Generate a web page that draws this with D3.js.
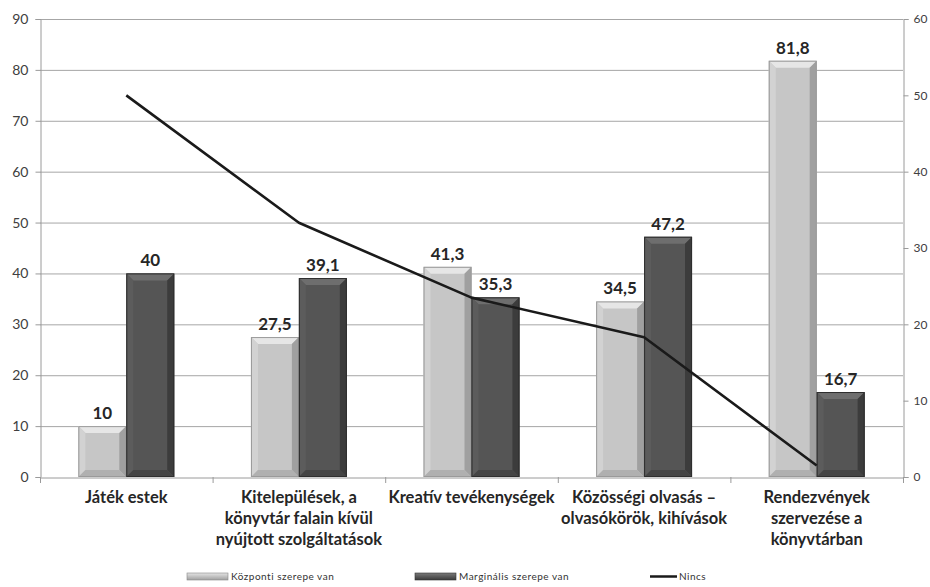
<!DOCTYPE html>
<html>
<head>
<meta charset="utf-8">
<script src="https://cdn.jsdelivr.net/npm/d3@7"></script>
<style>
  html, body { margin: 0; padding: 0; background: #fff; }
  svg { display: block; font-family: Lato, "Open Sans", sans-serif; }
</style>
</head>
<body>
<svg id="chart" width="930" height="587"></svg>
<script>
// Categories (multi-line labels) and series
const categories = [
  ["Játék estek"],
  ["Kitelepülések, a", "könyvtár falain kívül", "nyújtott szolgáltatások"],
  ["Kreatív tevékenységek"],
  ["Közösségi olvasás –", "olvasókörök, kihívások"],
  ["Rendezvények", "szervezése a", "könyvtárban"]
];
const seriesNames = ["Központi szerepe van", "Marginális szerepe van", "Nincs"];
const kozponti = [10, 27.5, 41.3, 34.5, 81.8];
const marginalis = [40, 39.1, 35.3, 47.2, 16.7];
const nincs = [50, 33.3, 23.5, 18.3, 1.5];
const leftTicks = [0, 10, 20, 30, 40, 50, 60, 70, 80, 90];
const rightTicks = [0, 10, 20, 30, 40, 50, 60];

const svg = d3.select("#chart");
const plotL = 40, plotR = 903, plotT = 19, plotB = 477;

const x0 = d3.scaleBand().domain(d3.range(categories.length)).range([plotL, plotR]).paddingInner(0).paddingOuter(0);
const x1 = d3.scaleBand().domain([0, 1]).range([0, x0.bandwidth()]).paddingInner(0).paddingOuter(0.8);
const yL = d3.scaleLinear().domain([0, 90]).range([plotB, plotT]);
const yR = d3.scaleLinear().domain([0, 60]).range([plotB, plotT]);

// Horizontal gridlines from the left axis
svg.append("g").selectAll("line").data(leftTicks.filter(d => d > 0)).join("line")
  .attr("x1", plotL).attr("x2", plotR)
  .attr("y1", d => yL(d) + 0.5).attr("y2", d => yL(d) + 0.5)
  .attr("stroke", "#a6a6a6").attr("stroke-width", 1);

// Axes
const axisColor = "#9a9a9a";
const gL = svg.append("g").attr("transform", `translate(${plotL + 0.5},0)`)
  .call(d3.axisLeft(yL).tickValues(leftTicks).tickSize(5).tickPadding(7));
const gR = svg.append("g").attr("transform", `translate(${plotR + 0.5},0)`)
  .call(d3.axisRight(yR).tickValues(rightTicks).tickSize(5).tickPadding(5));
const gB = svg.append("g").attr("transform", `translate(0,${plotB + 0.5})`)
  .call(d3.axisBottom(x0).tickValues([]).tickSizeOuter(0));
// category separators on the x axis
svg.append("g").selectAll("line").data(d3.range(categories.length + 1)).join("line")
  .attr("x1", i => (i < categories.length ? x0(i) : plotR) + 0.5)
  .attr("x2", i => (i < categories.length ? x0(i) : plotR) + 0.5)
  .attr("y1", plotB).attr("y2", plotB + 6)
  .attr("stroke", axisColor);
[gL, gR, gB].forEach(g => {
  g.selectAll("path.domain").attr("stroke", axisColor);
  g.selectAll(".tick line").attr("stroke", axisColor);
  g.selectAll(".tick text").attr("fill", "#404040").style("font-size", "14px").style("font-family", "Lato, sans-serif");
});
gR.selectAll(".tick text").style("font-size", "12px");

// Bevelled bars
const styles = [
  { face: "#c6c6c6", topB: "#e6e6e6", leftB: "#d2d2d2", rightB: "#a0a0a0", botB: "#b0b0b0", edge: "#9a9a9a" },
  { face: "#555555", topB: "#6e6e6e", leftB: "#5c5c5c", rightB: "#3c3c3c", botB: "#444444", edge: "#2e2e2e" }
];
const bev = 7;
function drawBar(g, x, y, w, h, s) {
  const b = Math.min(bev, h / 2, w / 2);
  g.append("rect").attr("x", x).attr("y", y).attr("width", w).attr("height", h).attr("fill", s.face);
  const poly = pts => g.append("polygon").attr("points", pts.map(p => p.join(",")).join(" "));
  poly([[x, y], [x + w, y], [x + w - b, y + b], [x + b, y + b]]).attr("fill", s.topB);
  poly([[x, y], [x + b, y + b], [x + b, y + h - b], [x, y + h]]).attr("fill", s.leftB);
  poly([[x + w, y], [x + w, y + h], [x + w - b, y + h - b], [x + w - b, y + b]]).attr("fill", s.rightB);
  poly([[x, y + h], [x + b, y + h - b], [x + w - b, y + h - b], [x + w, y + h]]).attr("fill", s.botB);
  g.append("rect").attr("x", x + 0.5).attr("y", y + 0.5).attr("width", w - 1).attr("height", h - 1)
    .attr("fill", "none").attr("stroke", s.edge).attr("stroke-width", 1);
}
const barsG = svg.append("g");
[kozponti, marginalis].forEach((vals, si) => {
  vals.forEach((v, i) => {
    const x = x0(i) + x1(si);
    drawBar(barsG, x, yL(v), x1.bandwidth(), yL(0) - yL(v), styles[si]);
  });
});

// Value labels
const fmt = v => String(v).replace(".", ",");
const labelsG = svg.append("g");
[kozponti, marginalis].forEach((vals, si) => {
  labelsG.selectAll(null).data(vals).join("text")
    .attr("x", (v, i) => x0(i) + x1(si) + x1.bandwidth() / 2)
    .attr("y", v => yL(v) - 7)
    .attr("text-anchor", "middle")
    .attr("fill", "#262626")
    .style("font-size", "17px").style("font-weight", "bold")
    .text(fmt);
});

// "Nincs" line on the right axis
const line = d3.line().x((d, i) => x0(i) + x0.bandwidth() / 2).y(d => yR(d));
svg.append("path").datum(nincs).attr("d", line)
  .attr("fill", "none").attr("stroke", "#1a1a1a").attr("stroke-width", 2.6).attr("stroke-linejoin", "round");

// Category labels
const catG = svg.append("g");
categories.forEach((lines, i) => {
  const t = catG.append("text")
    .attr("x", x0(i) + x0.bandwidth() / 2)
    .attr("y", 503)
    .attr("text-anchor", "middle")
    .attr("fill", "#262626")
    .style("font-size", "16.5px").style("font-weight", "bold");
  lines.forEach((l, k) => t.append("tspan").attr("x", x0(i) + x0.bandwidth() / 2).attr("dy", k === 0 ? 0 : 21).text(l));
});

// Legend
const legG = svg.append("g").style("font-size", "10px").attr("fill", "#333");
const legX = [187, 415, 650];
const lg = svg.append("defs");
const grad = (id, c1, c2) => {
  const g = lg.append("linearGradient").attr("id", id).attr("x1", 0).attr("x2", 0).attr("y1", 0).attr("y2", 1);
  g.append("stop").attr("offset", 0).attr("stop-color", c1);
  g.append("stop").attr("offset", 1).attr("stop-color", c2);
};
grad("legLight", "#e4e4e4", "#a0a0a0");
grad("legDark", "#7a7a7a", "#3a3a3a");
legG.append("rect").attr("x", legX[0]).attr("y", 573).attr("width", 41).attr("height", 7).attr("fill", "url(#legLight)").attr("stroke", "#888").attr("stroke-width", 0.6);
legG.append("rect").attr("x", legX[1]).attr("y", 573).attr("width", 41).attr("height", 7).attr("fill", "url(#legDark)").attr("stroke", "#333").attr("stroke-width", 0.6);
legG.append("line").attr("x1", legX[2]).attr("x2", legX[2] + 27).attr("y1", 576.5).attr("y2", 576.5).attr("stroke", "#1a1a1a").attr("stroke-width", 2.5);
seriesNames.forEach((n, i) => {
  legG.append("text").attr("x", legX[i] + (i < 2 ? 44 : 29)).attr("y", 580)
    .style("letter-spacing", "0.5px").text(n);
});
</script>
</body>
</html>
